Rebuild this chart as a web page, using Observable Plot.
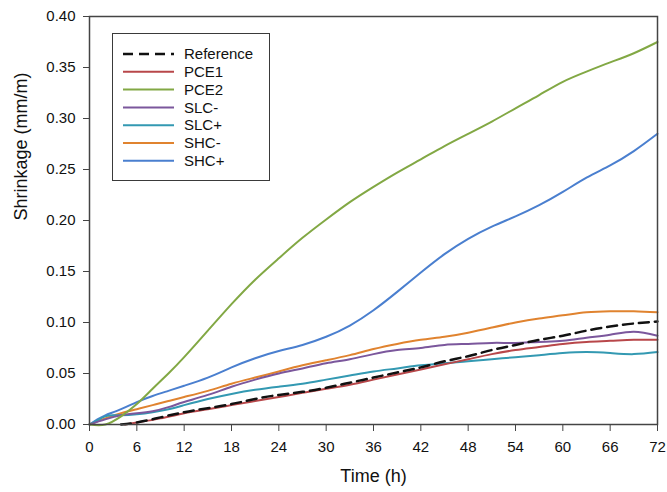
<!DOCTYPE html>
<html>
<head>
<meta charset="utf-8">
<script src="https://cdn.jsdelivr.net/npm/d3@7"></script>
<script src="https://cdn.jsdelivr.net/npm/@observablehq/plot@0.6"></script>
<style>
  html, body { margin: 0; padding: 0; background: #fff; }
  #wrap { position: relative; width: 667px; height: 492px; font-family: "Liberation Sans", Arial, sans-serif; }
  #legend { position: absolute; left: 112px; top: 33px; width: 156px; height: 146px; border: 1.5px solid #3a3a3a; background: #fff; }
</style>
</head>
<body>
<div id="wrap"><div id="chart"></div><div id="legend"></div></div>
<script>
// Data
const seriesNames = ["Reference", "PCE1", "PCE2", "SLC-", "SLC+", "SHC-", "SHC+"];
const seriesColors = ["#111111", "#b8474a", "#82a844", "#7b579c", "#3399b2", "#e0832f", "#4a7fcf"];

const refT = [4, 6, 9, 12, 15, 18, 21, 24, 27, 30, 33, 36, 39, 42, 45, 48, 51, 54, 57, 60, 63, 66, 69, 72];
const refY = [0, 0.002, 0.007, 0.012, 0.016, 0.020, 0.025, 0.029, 0.032, 0.036, 0.041, 0.046, 0.051, 0.056, 0.062, 0.067, 0.073, 0.078, 0.083, 0.087, 0.092, 0.096, 0.099, 0.101];

const pce1T = [4.5, 6, 9, 12, 15, 18, 21, 24, 27, 30, 33, 36, 39, 42, 45, 48, 51, 54, 57, 60, 63, 66, 69, 72];
const pce1Y = [0, 0.002, 0.006, 0.011, 0.015, 0.019, 0.023, 0.027, 0.031, 0.035, 0.039, 0.044, 0.049, 0.054, 0.059, 0.064, 0.069, 0.073, 0.076, 0.079, 0.081, 0.082, 0.083, 0.083];

const pce2T = [0, 2, 4, 6, 8, 10, 12, 15, 18, 21, 24, 27, 30, 33, 36, 39, 42, 45, 48, 51, 54, 57, 60, 63, 66, 69, 72];
const pce2Y = [0, 0, 0.008, 0.020, 0.035, 0.050, 0.066, 0.092, 0.118, 0.142, 0.163, 0.183, 0.201, 0.218, 0.233, 0.247, 0.260, 0.273, 0.285, 0.297, 0.310, 0.323, 0.336, 0.346, 0.355, 0.364, 0.375];

const slcmT = [0, 2, 4, 6, 8, 10, 12, 15, 18, 21, 24, 27, 30, 33, 36, 39, 42, 45, 48, 51, 54, 57, 60, 63, 66, 69, 72];
const slcmY = [0, 0.005, 0.009, 0.011, 0.013, 0.017, 0.022, 0.029, 0.037, 0.044, 0.050, 0.055, 0.060, 0.064, 0.069, 0.073, 0.075, 0.078, 0.079, 0.080, 0.080, 0.081, 0.082, 0.085, 0.088, 0.091, 0.087];

const slcpT = [0, 1, 2, 3, 4, 6, 8, 10, 12, 15, 18, 21, 24, 27, 30, 33, 36, 39, 42, 45, 48, 51, 54, 57, 60, 63, 66, 69, 72];
const slcpY = [0, 0.004, 0.008, 0.009, 0.009, 0.010, 0.012, 0.015, 0.019, 0.025, 0.030, 0.034, 0.037, 0.040, 0.044, 0.048, 0.052, 0.055, 0.058, 0.060, 0.062, 0.064, 0.066, 0.068, 0.070, 0.071, 0.070, 0.069, 0.071];

const shcmT = [0, 2, 4, 6, 8, 10, 12, 15, 18, 21, 24, 27, 30, 33, 36, 39, 42, 45, 48, 51, 54, 57, 60, 63, 66, 69, 72];
const shcmY = [0, 0.006, 0.011, 0.015, 0.019, 0.023, 0.027, 0.033, 0.040, 0.046, 0.052, 0.058, 0.063, 0.068, 0.074, 0.079, 0.083, 0.086, 0.090, 0.095, 0.100, 0.104, 0.107, 0.110, 0.111, 0.111, 0.110];

const shcpT = [0, 1, 2, 4, 6, 8, 10, 12, 15, 18, 21, 24, 27, 30, 33, 36, 39, 42, 45, 48, 51, 54, 57, 60, 63, 66, 69, 72];
const shcpY = [0, 0.005, 0.009, 0.015, 0.022, 0.028, 0.033, 0.038, 0.046, 0.056, 0.065, 0.072, 0.078, 0.086, 0.097, 0.112, 0.130, 0.149, 0.167, 0.182, 0.194, 0.204, 0.215, 0.228, 0.242, 0.254, 0.268, 0.285];

const xTicks = [0, 6, 12, 18, 24, 30, 36, 42, 48, 54, 60, 66, 72];
const yTicks = [0, 0.05, 0.10, 0.15, 0.20, 0.25, 0.30, 0.35, 0.40];

const allT = [refT, pce1T, pce2T, slcmT, slcpT, shcmT, shcpT];
const allY = [refY, pce1Y, pce2Y, slcmY, slcpY, shcmY, shcpY];
const rows = [];
seriesNames.forEach((name, i) => {
  allT[i].forEach((t, j) => rows.push({series: name, t, y: allY[i][j]}));
});

const lineMarks = seriesNames.slice(1).reverse().map(name =>
  Plot.line(rows.filter(d => d.series === name), {
    x: "t", y: "y", stroke: seriesColors[seriesNames.indexOf(name)],
    strokeWidth: 2, curve: "natural"
  })
);

const chart = Plot.plot({
  width: 667,
  height: 492,
  marginLeft: 89,
  marginRight: 10,
  marginTop: 16,
  marginBottom: 68,
  style: {fontFamily: "'Liberation Sans', Arial, sans-serif", fontSize: "15px", color: "#111", background: "#fff"},
  x: {domain: [0, 72]},
  y: {domain: [0, 0.40]},
  marks: [
    ...lineMarks,
    Plot.line(rows.filter(d => d.series === "Reference"), {
      x: "t", y: "y", stroke: seriesColors[0], strokeWidth: 2.5,
      strokeDasharray: "10,6", curve: "natural"
    }),
    Plot.frame({stroke: "#444", strokeWidth: 1.5}),
    Plot.axisX({ticks: xTicks, tickSize: 7, tickPadding: 10, tickFormat: d => String(d), label: null, stroke: "#444", fontSize: 15}),
    Plot.axisY({ticks: yTicks, tickSize: 6, tickPadding: 8, tickFormat: d => d.toFixed(2), label: null, stroke: "#444", fontSize: 15}),
    Plot.text(["Time (h)"], {frameAnchor: "bottom", dy: 57, fontSize: 18, fill: "#111"}),
    Plot.text(["Shrinkage (mm/m)"], {frameAnchor: "left", dx: -68, rotate: -90, fontSize: 18, fill: "#111"})
  ]
});
document.getElementById("chart").appendChild(chart);

// Legend (HTML overlay inside the plot frame)
const lg = d3.select("#legend").append("svg").attr("width", 156).attr("height", 146)
  .style("font-family", "'Liberation Sans', Arial, sans-serif").style("font-size", "15px");
seriesNames.forEach((name, i) => {
  const y = 20 + i * 17.8;
  lg.append("line").attr("x1", 10).attr("x2", 61).attr("y1", y).attr("y2", y)
    .attr("stroke", seriesColors[i]).attr("stroke-width", i === 0 ? 2.5 : 2)
    .attr("stroke-dasharray", i === 0 ? "10,6" : null);
  lg.append("text").attr("x", 71).attr("y", y).attr("dy", "0.35em").attr("fill", "#111").text(name);
});
</script>
</body>
</html>
